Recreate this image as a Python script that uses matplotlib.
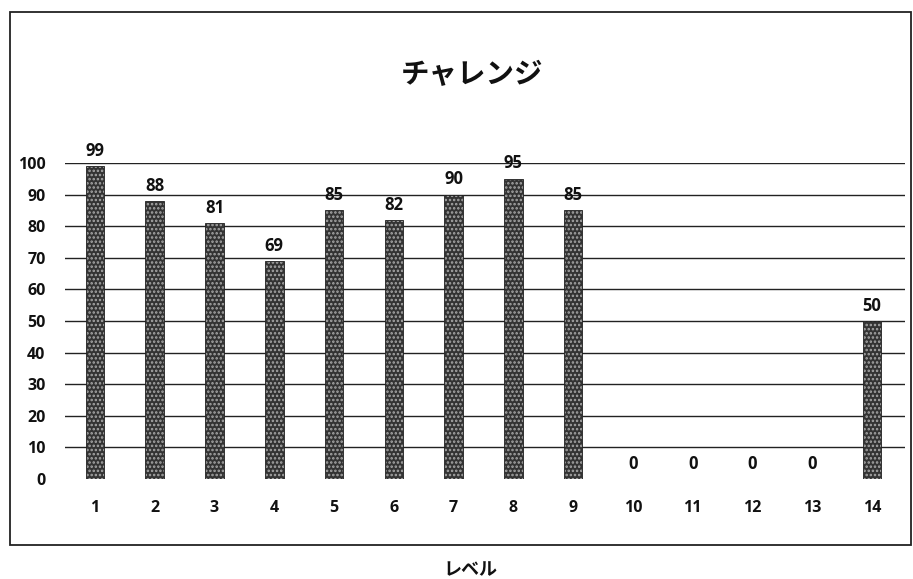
import matplotlib
matplotlib.use("Agg")
import matplotlib.pyplot as plt
from matplotlib.patches import Rectangle

plt.rcParams['font.family'] = ['Noto Sans CJK JP', 'DejaVu Sans']
plt.rcParams['hatch.linewidth'] = 1.2

title = "チャレンジ"
xlabel = "レベル"
levels = [str(i) for i in range(1, 15)]
scores = [99, 88, 81, 69, 85, 82, 90, 95, 85, 0, 0, 0, 0, 50]
yticks = [0, 10, 20, 30, 40, 50, 60, 70, 80, 90, 100]

W, H = 913, 579
fig = plt.figure(figsize=(W / 100, H / 100), dpi=100)
fig.patch.set_facecolor('white')

# outer border
fig.add_artist(Rectangle((10 / W, (H - 545) / H), (911 - 10) / W, (545 - 12) / H,
                         transform=fig.transFigure, fill=False,
                         edgecolor='#222222', linewidth=1.3))

ax = fig.add_axes([65 / W, (H - 479) / H, (905 - 65) / W, (479 - 163) / H])
x = list(range(1, 15))
ax.set_xlim(0.5, 14.55)
ax.set_ylim(0, 100)

for yv in yticks[1:]:
    ax.axhline(yv, color='#222222', linewidth=1.0, zorder=1)

bars = ax.bar(x, scores, width=0.31, color='#333333', edgecolor='#222222',
              linewidth=0.6, hatch='....', zorder=2)
for b in bars:
    b._hatch_color = (0.66, 0.66, 0.66, 1.0)

num_font = ['Open Sans', 'DejaVu Sans']
for xi, v in zip(x, scores):
    ax.text(xi, v + 2.0, str(v), ha='center', va='bottom', fontsize=12,
            fontweight='bold', family=num_font, clip_on=False,
            color='#111111')

ax.set_yticks(yticks)
ax.set_yticklabels([str(t) for t in yticks], fontsize=11.5, fontweight='bold',
                   family=num_font)
ax.set_xticks(x)
ax.set_xticklabels(levels, fontsize=11.5, fontweight='bold', family=num_font)
ax.tick_params(axis='both', length=0, colors='#111111')
ax.tick_params(axis='y', pad=14)
ax.tick_params(axis='x', pad=15)
for s in ax.spines.values():
    s.set_visible(False)

fig.text(472 / W, 1 - 75 / H, title, ha='center', va='center', fontsize=20.5,
         fontweight='bold', color='#111111')
fig.text(470 / W, 1 - 570 / H, xlabel, ha='center', va='center', fontsize=13,
         fontweight='bold', color='#111111')

fig.savefig('out.png', dpi=100, facecolor='white')
